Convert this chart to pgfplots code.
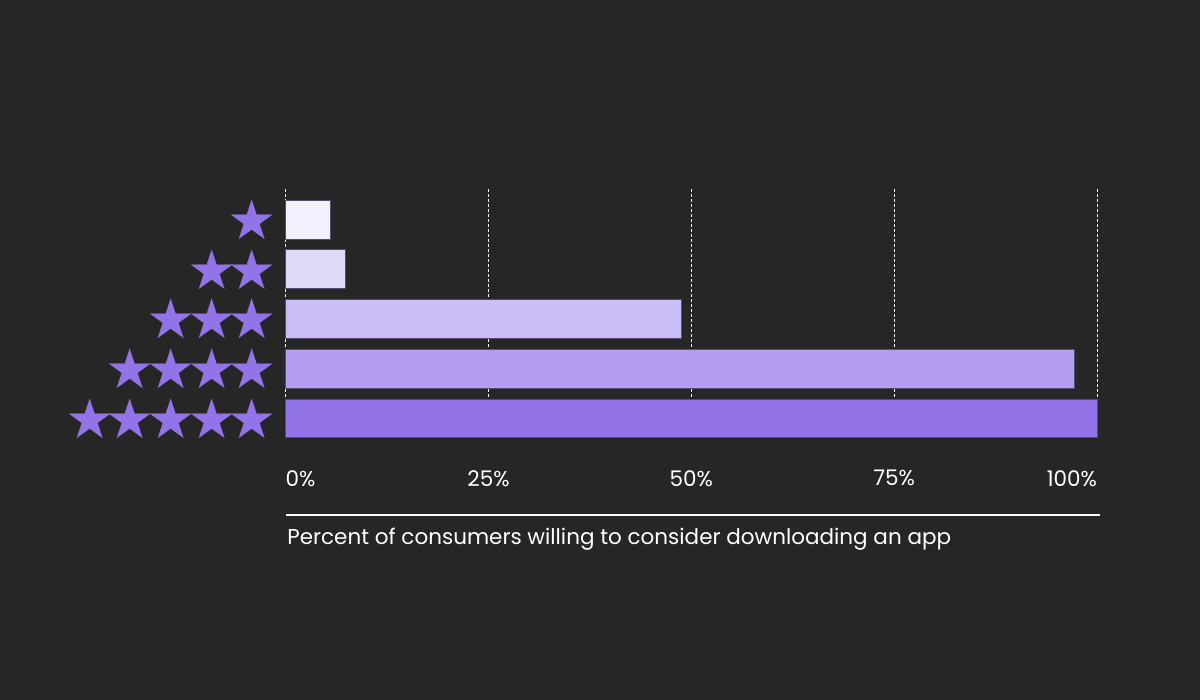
\documentclass[border=0pt]{standalone}
\usepackage{fontspec}
\setmainfont{Poppins}
\newfontfamily\starfont{DejaVu Sans}
\usepackage{pgfplots}
\pgfplotsset{compat=1.18}
\definecolor{bg}{HTML}{262626}
\definecolor{starc}{HTML}{9373E8}
\definecolor{cA}{HTML}{F3F0FD}
\definecolor{cB}{HTML}{E0D8F8}
\definecolor{cC}{HTML}{CBBDF5}
\definecolor{cD}{HTML}{B39EF0}
\definecolor{cE}{HTML}{9273E8}
\definecolor{edge}{HTML}{554D6E}
\def\st{★}
\def\k{\kern-8.6pt}
\begin{document}
\begin{tikzpicture}
\fill[bg] (0,0) rectangle (1200pt,700pt);
\begin{axis}[
  at={(285.7pt,262.3pt)}, anchor=south west,
  scale only axis, width=811.3pt, height=248.4pt,
  xmin=0, xmax=100, ymin=-0.61, ymax=4.39, y dir=reverse,
  xbar, bar width=38.8pt, bar shift=0pt,
  axis line style={draw=none}, major tick length=0pt,
  xtick={0,25,50,75,100},
  xticklabels={\rlap{0\%},25\%,50\%,75\%,\llap{100\%}},
  xticklabel style={font=\fontsize{21.5}{25}\selectfont, text=white, anchor=north, yshift=-29pt},
  ytick={0,1,2,3,4},
  yticklabels={{\st},{\st\k\st},{\st\k\st\k\st},{\st\k\st\k\st\k\st},{\st\k\st\k\st\k\st\k\st}},
  yticklabel style={font=\starfont\fontsize{55}{55}\selectfont, text=starc, anchor=east, xshift=-5pt},
  xmajorgrids, grid style={white, line width=0.8pt, dash pattern=on 3pt off 2pt},
  clip=false,
]
\addplot[fill=cA, draw=edge, line width=0.8pt] coordinates {(5.5,0)};
\addplot[fill=cB, draw=edge, line width=0.8pt] coordinates {(7.3,1)};
\addplot[fill=cC, draw=edge, line width=0.8pt] coordinates {(48.8,2)};
\addplot[fill=cD, draw=edge, line width=0.8pt] coordinates {(97.2,3)};
\addplot[fill=cE, draw=edge, line width=0.8pt] coordinates {(100,4)};
\draw[white, line width=2pt] ([yshift=-77pt]rel axis cs:0,0) -- ([xshift=3pt,yshift=-77pt]rel axis cs:1,0);
\node[anchor=base west, text=white, font=\fontsize{21.5}{25}\selectfont, inner sep=0pt] at ([xshift=1.5pt,yshift=-107pt]rel axis cs:0,0) {Percent of consumers willing to consider downloading an app};
\end{axis}
\end{tikzpicture}
\end{document}
